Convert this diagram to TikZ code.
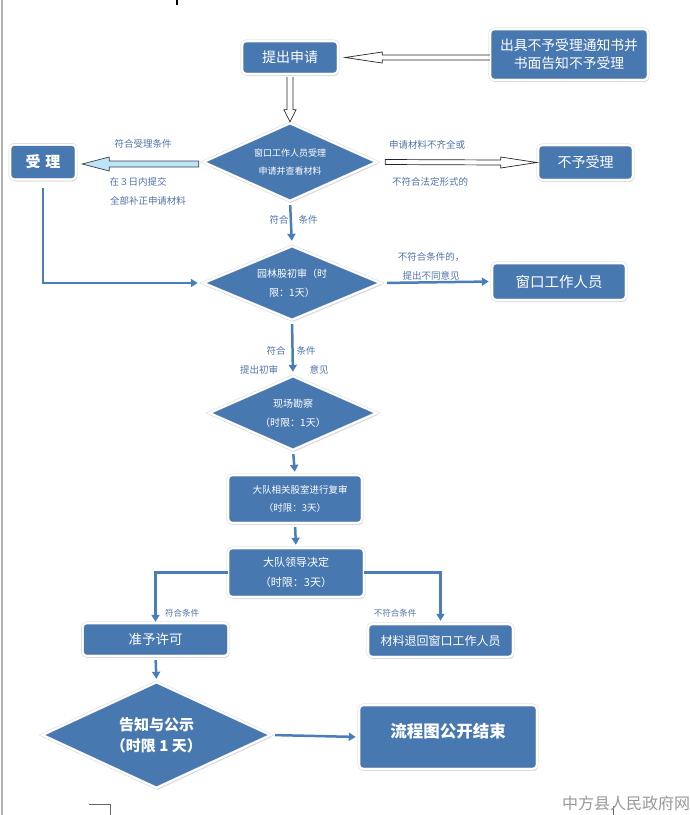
\documentclass[tikz,border=0pt]{standalone}
\usepackage{fontspec}
\setmainfont{Noto Sans CJK SC}
\usetikzlibrary{shapes.geometric,arrows.meta,calc,shadows}
\definecolor{boxblue}{HTML}{4878B0}
\definecolor{linkblue}{HTML}{4A7EBB}
\definecolor{labelc}{HTML}{4F74AA}
\definecolor{lightarrow}{HTML}{BDE5F8}
\newcommand{\fsz}[2]{\fontsize{#1}{#2}\selectfont}
\begin{document}
\begin{tikzpicture}[x=1pt,y=-1pt,
  shadowed/.style={drop shadow={shadow xshift=1pt,shadow yshift=-2pt,opacity=0.25}},
  box/.style={rectangle,rounded corners=4pt,fill=boxblue,text=white,draw=black!18,
    double=white,double distance=2pt,shadowed,inner sep=0pt,align=center},
  dia/.style={diamond,fill=boxblue,text=white,draw=black!18,double=white,
    double distance=2pt,shadowed,inner sep=0pt,align=center},
  conn/.style={draw=linkblue,line width=2.5pt,-{Triangle[length=7pt,width=8pt]}},
  lbl/.style={text=labelc,font=\fsz{9.5}{11},inner sep=0pt},
  slbl/.style={text=labelc,font=\fsz{8.5}{10},inner sep=0pt},
  hollow/.style={draw=black!85,line width=0.7pt,line join=miter},
]
\useasboundingbox (0,0) rectangle (689,815);
\fill[white] (0,0) rectangle (689,815);

% page marks
\draw[draw=black!30,line width=2pt] (1.5,0) -- (1.5,815);
\draw[black,line width=1.5pt] (177,0) -- (177,5);
\draw[black!60,line width=0.6pt] (89,804) -- (110,804) -- (110,815);
\draw[black!60,line width=0.6pt] (613,815) -- (613,806);

% nodes
\node[box,minimum width=96,minimum height=33,font=\fsz{14}{16}] (apply) at (290,57.5) {提出申请};
\node[box,minimum width=158,minimum height=51,font=\fsz{13.8}{18}] (notice) at (569,54.5) {出具不予受理通知书并\\书面告知不予受理};
\node[box,minimum width=66,minimum height=35,font=\fsz{15}{17}\bfseries] (accept) at (43,162) {受\hspace{5pt}理};
\node[dia,minimum width=174,minimum height=78,aspect=2.23,font=\fsz{9}{18}] (d1) at (290,162) {窗口工作人员受理\\申请并查看材料};
\node[box,minimum width=95,minimum height=35,font=\fsz{14}{16}] (reject) at (585.5,162.5) {不予受理};
\node[dia,minimum width=178,minimum height=74,aspect=2.4,font=\fsz{10}{19}] (d2) at (292,283) {园林股初审（时\\限：1天）};
\node[box,minimum width=134,minimum height=37,font=\fsz{14.5}{16}] (win) at (559,281.5) {窗口工作人员};
\node[dia,minimum width=168,minimum height=74,aspect=2.27,font=\fsz{10}{19}] (d3) at (293,413) {现场勘察\\（时限：1天）};
\node[box,minimum width=134,minimum height=48,font=\fsz{9.5}{18}] (review) at (295,499) {\hspace{10pt}大队相关股室进行复审\\（时限：3天）};
\node[box,minimum width=136,minimum height=49,font=\fsz{11}{20}] (decide) at (296,572.5) {大队领导决定\\（时限：3天）};
\node[box,minimum width=146,minimum height=33,font=\fsz{13.5}{16}] (permit) at (155.5,639.5) {准予许可};
\node[box,minimum width=145,minimum height=33,font=\fsz{12}{14}] (return) at (440.5,640.5) {材料退回窗口工作人员};
\node[dia,minimum width=229,minimum height=106,aspect=2.16,font=\fsz{15}{21}\bfseries] (d4) at (156.5,735) {告知与公示\\（时限 1 天）};
\node[box,minimum width=178,minimum height=64,font=\fsz{16.5}{18}\bfseries] (end) at (448,737) {\raisebox{-0.5pt}[0pt][0pt]{流程图公开结束}};

% hollow arrow notice -> apply
\coordinate (nA) at (apply.east -| notice.west);
\coordinate (tA) at ($(apply.east)+(7,0)$);
\draw[hollow] ($(nA)+(0,-2.5)$) -- ($(tA)+(37,-2.5)$) -- ($(tA)+(37,-5.5)$) -- (tA)
  -- ($(tA)+(37,5.5)$) -- ($(tA)+(37,2.5)$) -- ($(nA)+(0,2.5)$);

% hollow arrow apply -> d1
\coordinate (sB) at ($(apply.south)+(0,3)$);
\coordinate (tB) at ($(d1.north)+(0,-1)$);
\draw[hollow] ($(sB)+(-3,0)$) -- ($(tB)+(-3,-12)$) -- ($(tB)+(-6,-12)$) -- (tB)
  -- ($(tB)+(6,-12)$) -- ($(tB)+(3,-12)$) -- ($(sB)+(3,0)$);

% hollow arrow d1 -> reject
\coordinate (sC) at ($(d1.east)+(8,0)$);
\coordinate (tC) at ($(reject.west)+(-1,0)$);
\draw[hollow] ($(sC)+(0,-2.5)$) -- ($(tC)+(-36,-2.5)$) -- ($(tC)+(-36,-5.5)$) -- (tC)
  -- ($(tC)+(-36,5.5)$) -- ($(tC)+(-36,2.5)$) -- ($(sC)+(0,2.5)$) -- cycle;

% light blue arrow d1 -> accept
\coordinate (sD) at ($(d1.west)+(-4,2)$);
\coordinate (tD) at ($(accept.east)+(6,2)$);
\draw[hollow,fill=lightarrow,draw=black!75] ($(sD)+(0,-3)$) -- ($(tD)+(27,-3)$) -- ($(tD)+(27,-7)$) -- (tD)
  -- ($(tD)+(27,7)$) -- ($(tD)+(27,3)$) -- ($(sD)+(0,3)$) -- cycle;

% blue connectors
\draw[conn,shorten <=4pt,shorten >=5pt] (d1.south) -- (d2.north);
\draw[conn,shorten >=5pt] ($(accept.south)+(0,8)$) |- (d2.west);
\draw[conn,shorten <=6pt,shorten >=3pt] (d2.east) -- (win.west);
\draw[conn,shorten <=4pt,shorten >=4pt] (d2.south) -- (d3.north);
\draw[conn,shorten <=4pt,shorten >=3pt] (d3.south) -- (review.north);
\draw[conn,shorten <=4pt,shorten >=3pt] (review.south) -- (decide.north);
\draw[conn,shorten >=1pt] (decide.west) -| (permit.north);
\draw[conn,shorten >=3pt] (decide.east) -| (return.north);
\draw[conn,shorten <=4pt,shorten >=3pt] (permit.south) -- (d4.north);
\draw[conn,shorten <=4pt,shorten >=3pt] (d4.east) -- (end.west);

% labels
\node[lbl] (l1) at (143,144) {符合受理条件};
\node[lbl] (l2) at (138,182) {在３日内提交};
\node[lbl] (l3) at (148,201) {全部补正申请材料};
\node[lbl] (l4) at (427,145) {申请材料不齐全或};
\node[lbl] (l5) at (430,182) {不符合法定形式的};
\node[lbl] (l6) at (279,220) {符合};
\node[lbl] (l7) at (308,220) {条件};
\node[lbl] (l8) at (431,257) {不符合条件的，};
\node[lbl] (l9) at (431,276) {提出不同意见};
\node[lbl] (l10) at (276,351) {符合};
\node[lbl] (l11) at (306,351) {条件};
\node[lbl] (l12) at (259,370) {提出初审};
\node[lbl] (l13) at (319,370) {意见};
\node[slbl] (l14) at (182,613) {符合条件};
\node[slbl] (l15) at (395,613) {不符合条件};

% watermark
\node[text=black!40,font=\fsz{16}{18},inner sep=0pt] (wm) at (626,803) {中方县人民政府网};
\end{tikzpicture}
\end{document}
